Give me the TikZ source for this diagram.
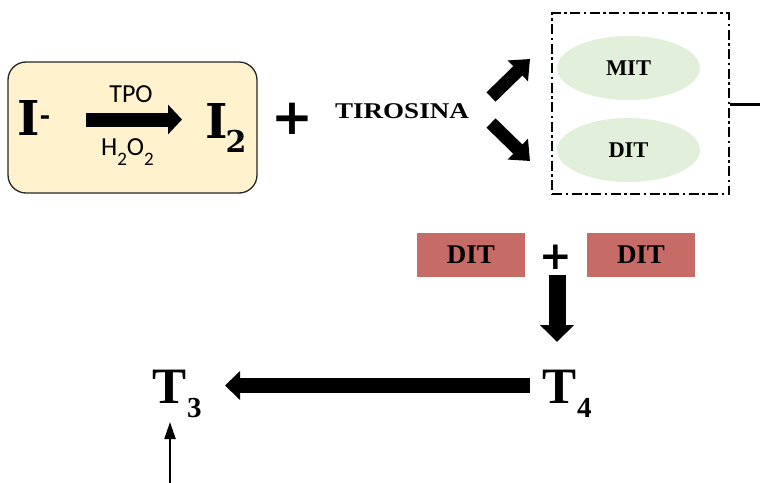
\documentclass[tikz,border=0pt]{standalone}
\usepackage{fontspec}
\usepackage{graphicx}
\setmainfont{Liberation Serif}
\newfontfamily\dvserif{DejaVu Serif}
\newfontfamily\dvsans{DejaVu Sans}
\newfontfamily\carl{Carlito}
\usetikzlibrary{arrows.meta,shapes.geometric}
\definecolor{boxyellow}{HTML}{FFF2CC}
\definecolor{oval}{HTML}{E2EFDA}
\definecolor{ditred}{HTML}{C76B67}
\begin{document}
\begin{tikzpicture}[x=1pt,y=-1pt,
  lbl/.style={inner sep=0pt, anchor=base west},
  clbl/.style={inner sep=0pt, anchor=base},
  bigserif/.style={font=\dvserif\bfseries\fontsize{48}{48}\selectfont},
  tserif/.style={font=\bfseries\fontsize{51}{51}\selectfont},
  plussign/.style={inner sep=0pt, anchor=center, font=\dvsans\bfseries\fontsize{#1}{#1}\selectfont},
  oval/.style={ellipse, fill=oval, minimum width=143pt, minimum height=64pt, inner sep=0pt,
    font=\bfseries\fontsize{22.5}{22.5}\selectfont},
  ditbox/.style={fill=ditred, minimum width=108pt, minimum height=44pt, inner sep=0pt,
    font=\bfseries\fontsize{27}{27}\selectfont},
  blockarrow/.style n args={3}{line width=#1, -{Triangle[length=#2, width=#3]}}
]
\useasboundingbox (0,0) rectangle (760,482);

% yellow box with I- -> I2
\node[draw=black!85, line width=1.3pt, rounded corners=18pt, fill=boxyellow,
  minimum width=249pt, minimum height=131pt, inner sep=0pt] (ybox) at (132.5,127.5) {};
\node[lbl, bigserif] (iminus) at (17,135) {I\raisebox{11pt}{\fontsize{26}{26}\selectfont -}};
\node[lbl, bigserif] (itwo) at (205,138) {I\kern-2pt\raisebox{-14pt}{\fontsize{30}{30}\selectfont 2}};
\node[clbl, font=\carl\fontsize{26}{26}\selectfont] (tpo) at (131,102) {TPO};
\node[clbl, font=\carl\fontsize{26}{26}\selectfont] (hoo) at (127.5,155)
  {H\raisebox{-10pt}{\fontsize{19}{19}\selectfont 2}O\raisebox{-10pt}{\fontsize{19}{19}\selectfont 2}};
\coordinate (tpoS) at (86,119.5);
\coordinate (tpoE) at (182,119.5);
\draw[blockarrow={14pt}{14pt}{29pt}] (tpoS) -- (tpoE);

% plus and TIROSINA
\node[plussign=50] (plusA) at (292.5,118.5) {+};
\node[clbl, font=\bfseries\fontsize{22.5}{22.5}\selectfont] (tiro) at (402,118) {\scalebox{1.2}[1]{TIROSINA}};

% diagonal arrows
\coordinate (upS) at (491,97);
\coordinate (upE) at (530,59);
\coordinate (dnS) at (491,123);
\coordinate (dnE) at (530,161);
\draw[blockarrow={13pt}{17pt}{28pt}] (upS) -- (upE);
\draw[blockarrow={13pt}{17pt}{28pt}] (dnS) -- (dnE);

% dash-dot group with MIT / DIT
\node[draw, line width=1.8pt, dash pattern=on 10pt off 3.5pt on 2.5pt off 3.5pt,
  minimum width=177pt, minimum height=181pt, inner sep=0pt] (grp) at (640.5,103.5) {};
\node[oval] (mit) at (628.5,68) {MIT};
\node[oval] (dit) at (628.5,150) {DIT};
\coordinate (edge) at (762,104);
\draw[line width=3pt] (grp.east |- edge) -- (edge);

% DIT + DIT
\node[ditbox] (ditL) at (471,255) {DIT\hspace{8pt}};
\node[ditbox] (ditR) at (641,255) {DIT\hspace{11pt}};
\node[plussign=39] (plusB) at (555.5,257.5) {+};
\coordinate (dwS) at (557,275);
\coordinate (dwE) at (557,342);
\draw[blockarrow={17pt}{17pt}{33pt}] (dwS) -- (dwE);

% T4 -> T3
\node[lbl, tserif] (tfour) at (542,403) {T\kern1pt\raisebox{-14pt}{\fontsize{29}{29}\selectfont 4}};
\node[lbl, tserif] (tthree) at (152,403) {T\kern1pt\raisebox{-14pt}{\fontsize{29}{29}\selectfont 3}};
\coordinate (ltS) at (530,385.5);
\coordinate (ltE) at (225,385.5);
\draw[blockarrow={15pt}{15pt}{28pt}] (ltS) -- (ltE);

% thin arrow up to T3
\coordinate (botS) at (170,484);
\coordinate (botE) at (170,422);
\draw[line width=2.3pt, -{Triangle[length=17pt, width=11pt]}] (botS) -- (botE);
\end{tikzpicture}
\end{document}
